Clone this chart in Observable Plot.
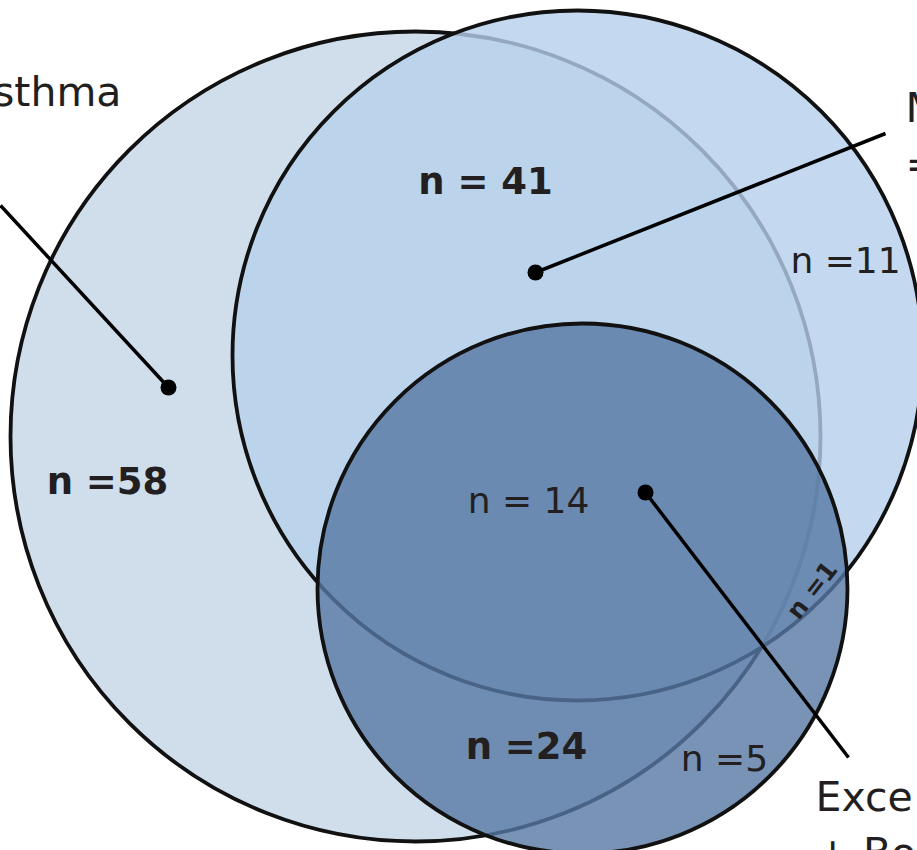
<!DOCTYPE html>
<html>
<head>
<meta charset="utf-8">
<script src="https://cdn.jsdelivr.net/npm/d3@7"></script>
<script src="https://cdn.jsdelivr.net/npm/@observablehq/plot@0.6"></script>
<style>
  html, body { margin: 0; padding: 0; overflow: hidden; background: #fff; }
  #chart svg { display: block; }
</style>
</head>
<body>
<div id="chart"></div>
<script>
// ---- data ----
const setNames = ["Asthma", "M", "Exce"];
const setLabelText = ["Asthma", "M\n=", "Exce\n+ Bo"];
const circleCx = [415, 577, 582];
const circleCy = [436, 355, 588];
const circleR = [405, 345, 265];

const regionText = ["n =58", "n = 41", "n =11", "n = 14", "n =24", "n =5", "n =1"];
const regionBold = [true, true, false, false, true, false, true];
const regionX = [107, 485, 845, 528, 526, 724, 812];
const regionY = [493, 193, 272, 512, 758, 770, 590];

const leaderFromX = [0, 885, 848];
const leaderFromY = [205, 133, 757];
const leaderToX = [168, 535, 645];
const leaderToY = [387, 272, 492];

const setLabelX = [121, 905, 815];
const setLabelY = [105, 177, 866];
const setLabelAnchor = ["end", "start", "start"];

// ---- tables ----
const circles = setNames.map((s, i) => ({set: s, cx: circleCx[i], cy: circleCy[i], r: circleR[i]}));
const regions = regionText.map((t, i) => ({t, bold: regionBold[i], x: regionX[i], y: regionY[i]}));
const leaders = setNames.map((s, i) => ({x1: leaderFromX[i], y1: leaderFromY[i], x2: leaderToX[i], y2: leaderToY[i]}));
const setLabels = setNames.map((s, i) => ({t: setLabelText[i], x: setLabelX[i], y: setLabelY[i], anchor: setLabelAnchor[i]}));

const circleFill = ["#d0deec", "#b5cfeb", "#5678a4"];
const circleOpacity = [1, 0.8, 0.8];
const ink = "#231f20";
const font = "DejaVu Sans, Verdana, sans-serif";

const marks = [];
circles.forEach((c, i) => {
  marks.push(Plot.dot([c], {
    x: "cx", y: "cy", r: "r",
    fill: circleFill[i], fillOpacity: circleOpacity[i],
    stroke: "#111", strokeWidth: 3.8
  }));
});
marks.push(Plot.link(leaders, {x1: "x1", y1: "y1", x2: "x2", y2: "y2", stroke: "#000", strokeWidth: 3.5}));
marks.push(Plot.dot(leaders, {x: "x2", y: "y2", r: () => 8, fill: "#000", stroke: "none"}));

const mainRegions = regions.filter(d => d.t !== "n =1");
marks.push(Plot.text(mainRegions.filter(d => d.bold), {
  x: "x", y: "y", text: "t", textAnchor: "middle", lineAnchor: "bottom",
  fontSize: 37, fontWeight: "bold", fill: ink, fontFamily: font
}));
marks.push(Plot.text(mainRegions.filter(d => !d.bold), {
  x: "x", y: "y", text: "t", textAnchor: "middle", lineAnchor: "bottom",
  fontSize: 36, fill: ink, fontFamily: font
}));
marks.push(Plot.text(regions.filter(d => d.t === "n =1"), {
  x: "x", y: "y", text: "t", textAnchor: "middle", lineAnchor: "middle",
  fontSize: 25, fontWeight: "bold", fill: ink, fontFamily: font, rotate: -52
}));
setLabels.forEach(d => {
  marks.push(Plot.text([d], {
    x: "x", y: "y", text: "t", textAnchor: d.anchor, lineAnchor: "bottom",
    fontSize: 41, fill: ink, fontFamily: font, lineHeight: 1.35
  }));
});

const chart = Plot.plot({
  width: 917, height: 850, margin: 0,
  x: {domain: [0, 917], range: [0, 917], axis: null},
  y: {domain: [0, 850], range: [0, 850], axis: null},
  r: {type: "identity"},
  style: {background: "#fff", overflow: "hidden"},
  marks
});
document.getElementById("chart").appendChild(chart);
</script>
</body>
</html>
